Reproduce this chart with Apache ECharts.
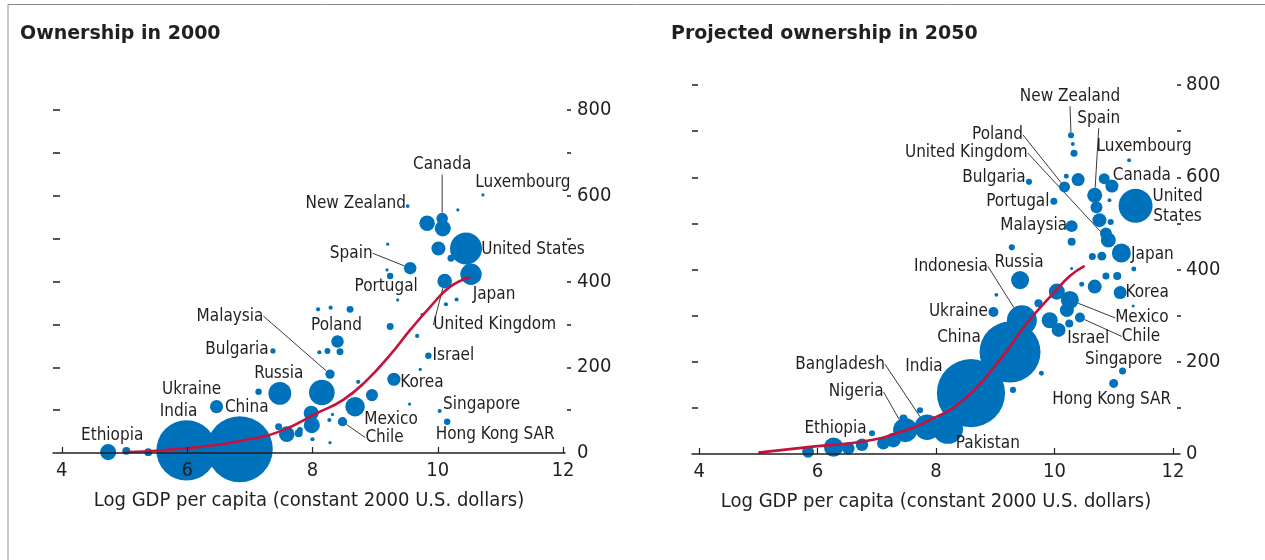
<!DOCTYPE html>
<html>
<head>
<meta charset="utf-8">
<script src="https://cdn.jsdelivr.net/npm/echarts@6/dist/echarts.min.js"></script>
<style>
  html, body { margin: 0; padding: 0; background: #fff; }
  #chart { width: 1265px; height: 560px; }
</style>
</head>
<body>
<div id="chart"></div>
<script>
// ---- Vehicle ownership in 2000 (per 1,000 people) ----
const names2000 = ['Ethiopia','','','India','China','Ukraine','Russia','','Bulgaria','Malaysia','','Poland','','','','','','','','','Mexico','Chile','Korea','','','Israel','','','','Singapore','Hong Kong SAR','','Portugal','','Spain','','','','Canada','','','United States','','Japan','United Kingdom','','','','Luxembourg','New Zealand','','','','','','','','',''];
const gdp2000   = [4.74,5.03,5.38,5.99,6.84,6.47,7.48,7.14,7.37,8.28,8.15,8.40,8.24,8.44,8.11,8.60,8.09,8.29,7.98,7.99,8.68,8.48,9.30,8.95,8.73,9.85,9.72,9.67,9.24,10.03,10.15,9.55,9.24,9.19,9.56,9.20,9.36,9.83,10.07,10.08,10.01,10.45,10.21,10.53,10.11,10.30,10.13,10.32,10.72,9.52,7.46,7.59,7.78,8.00,7.80,8.28,8.27,8.32,9.75];
const own2000   = [2,5,2,6,9,108,139,143,238,184,141,260,238,236,235,335,335,339,93,65,108,73,172,135,166,227,195,273,295,98,73,114,413,427,431,487,357,536,547,524,477,477,454,417,401,358,347,567,602,576,61,44,46,32,54,24,77,90,323];
const pop2000   = [75,18,18,1050,1260,50,150,12,8,25,190,45,10,14,5,14,5,5,65,74,110,25,50,42,5,12,3,5,14,5,12,3,12,3,45,3,3,70,38,75,57,295,14,132,62,5,5,3,3,4,14,70,18,5,10,3,5,3,3];
const fitGdp2000 = [4.97,5.99,7.00,7.54,8.07,8.49,8.87,9.24,9.56,9.88,10.20,10.52];
const fitOwn2000 = [1.6,11,32,54,93,124,170,229,287,341,388,410];

// ---- Projected vehicle ownership in 2050 ----
const names2050 = ['','Ethiopia','','','','','','Nigeria','Bangladesh','Pakistan','','','India','China','Indonesia','Ukraine','','Russia','','','','Singapore','Hong Kong SAR','','','Mexico','','','','Israel','Chile','','Korea','','','','','','','','','Japan','','United Kingdom','','Malaysia','','','United States','','Spain','','Portugal','Bulgaria','Canada','','','Poland','','Luxembourg','','','New Zealand'];
const gdp2050   = [5.84,6.27,6.52,6.75,6.92,7.11,7.28,7.48,7.85,8.20,7.45,7.73,8.59,9.25,9.45,8.97,9.02,9.42,9.28,9.78,9.30,11.15,11.00,9.73,10.04,10.26,10.21,9.92,10.07,10.25,10.43,10.68,11.11,11.33,10.46,10.87,11.06,11.34,10.64,10.80,10.29,11.13,10.29,10.91,10.87,10.29,10.95,10.76,11.37,10.93,10.68,10.71,9.99,9.57,10.97,10.84,10.40,10.17,10.20,11.26,10.33,10.31,10.28];
const own2050   = [5,15,12,20,45,23,30,52,58,55,77,95,132,221,290,308,345,377,448,175,139,180,153,327,352,334,312,290,269,283,296,363,350,321,368,386,386,401,428,429,402,436,460,464,478,494,503,507,538,550,561,535,548,590,581,597,595,579,602,637,652,672,691];
const pop2050   = [46,120,50,50,12,50,70,190,210,300,21,12,1500,1200,290,32,5,105,12,8,12,16,26,21,83,105,63,83,63,21,32,63,55,3,8,16,21,8,16,26,3,117,21,73,46,46,12,63,373,5,73,46,16,12,55,39,55,39,8,5,16,5,12];
const fitGdp2050 = [5.00,5.92,6.77,7.34,7.90,8.46,9.08,9.53,9.98,10.26,10.51];
const fitOwn2050 = [3,16,27,45,74,117,204,283,348,386,408];

// Axis ticks and labels
const xTicks = [4, 6, 8, 10, 12];
const yTicks = [100, 200, 300, 400, 500, 600, 700, 800];
const yLabels = [0, 200, 400, 600, 800];

// Label placement (pixel offset of the label centre from its bubble) and leader lines
const labelOffsets2000 = {
  'Ethiopia': [4, -17], 'India': [-8, -39], 'Ukraine': [-25, -17], 'China': [7, -42],
  'Russia': [-1, -20], 'Bulgaria': [-36, -1], 'Malaysia': [-100, -58], 'Poland': [-1, -16],
  'Portugal': [-4, 11], 'Spain': [-59, -15], 'New Zealand': [-52, -2], 'Canada': [0, -54],
  'Luxembourg': [40, -12], 'United States': [67, 1], 'Japan': [23, 20], 'United Kingdom': [50, 44],
  'Israel': [25, 0], 'Korea': [28, 3], 'Singapore': [42, -6], 'Hong Kong SAR': [48, 13],
  'Mexico': [36, 13], 'Chile': [42, 16]
};
const leaders2000 = ['Malaysia', 'Spain', 'Canada', 'United Kingdom', 'Chile'];
const labelOffsets2050 = {
  'New Zealand': [-1, -39], 'Spain': [4, -77], 'Luxembourg': [15, -14], 'Poland': [-67, -52],
  'United Kingdom': [-142, -87], 'Canada': [30, -10], 'United States': [42, 1], 'Bulgaria': [-35, -4],
  'Portugal': [-36, 0], 'Malaysia': [-38, -1], 'Japan': [31, 2], 'Russia': [-1, -18],
  'Indonesia': [-71, -54], 'Korea': [27, 0], 'Ukraine': [-35, 0], 'Mexico': [72, 18],
  'Chile': [61, 19], 'Israel': [19, 15], 'China': [-51, -14], 'India': [-47, -27],
  'Singapore': [1, -11], 'Hong Kong SAR': [-2, 16], 'Bangladesh': [-87, -63], 'Nigeria': [-49, -38],
  'Ethiopia': [2, -19], 'Pakistan': [40, 15]
};
const leaders2050 = ['New Zealand', 'Spain', 'Poland', 'United Kingdom', 'Indonesia', 'Mexico', 'Chile', 'Bangladesh', 'Nigeria'];
const labelText2050 = { 'United States': 'United\nStates' };

const BLUE = '#0072bc';
const RED = '#c5123a';
const INK = '#231f20';
const COND = "'DejaVu Sans Condensed', 'Liberation Sans Narrow', 'Liberation Sans', sans-serif";
const AXIS_NAME = 'Log GDP per capita (constant 2000 U.S. dollars)';

function bubbleSeries(idx, names, gdp, own, pop, scale, offsets, leaders, textMap) {
  const data = names.map((n, i) => ({
    name: n,
    value: [gdp[i], own[i], pop[i]],
    label: { show: n !== '' },
    labelLine: { show: leaders.includes(n) }
  }));
  return {
    type: 'scatter',
    xAxisIndex: idx, yAxisIndex: idx * 2,
    data,
    clip: false,
    z: 2,
    symbolSize: v => 2 * scale * Math.sqrt(v[2]),
    itemStyle: { color: BLUE, opacity: 1 },
    label: {
      position: 'inside',
      formatter: p => (textMap && textMap[p.name]) || p.name,
      color: INK, fontFamily: COND, fontSize: 17, lineHeight: 20
    },
    labelLine: { lineStyle: { color: '#3a3a3a', width: 1 } },
    labelLayout: p => {
      const o = offsets[names[p.dataIndex]];
      return o ? { dx: o[0], dy: o[1] } : {};
    },
    emphasis: { disabled: true }
  };
}

function fitSeries(idx, gx, gy) {
  return {
    type: 'line', xAxisIndex: idx, yAxisIndex: idx * 2,
    data: gx.map((x, i) => [x, gy[i]]),
    smooth: true, showSymbol: false, symbol: 'none', clip: false, z: 6,
    lineStyle: { color: RED, width: 2.6 }
  };
}

function xAxisFor(idx, min, max) {
  return {
    type: 'value', gridIndex: idx, min, max, z: 10,
    axisLine: { show: true, lineStyle: { color: INK, width: 1.5 } },
    axisTick: { show: true, inside: true, length: 6, customValues: xTicks, lineStyle: { color: INK, width: 1.2 } },
    axisLabel: { customValues: xTicks, color: INK, fontFamily: COND, fontSize: 20, margin: 8 },
    splitLine: { show: false },
    name: AXIS_NAME, nameLocation: 'middle', nameGap: 38,
    nameTextStyle: { color: INK, fontFamily: COND, fontSize: 20 }
  };
}

function yAxesFor(idx, offset, margin, leftTick) {
  return [
    {
      type: 'value', gridIndex: idx, position: 'right', offset, min: 0, max: 800,
      axisLine: { show: false },
      axisTick: { show: true, length: 4, customValues: yTicks, lineStyle: { color: INK, width: 1.5 } },
      axisLabel: { customValues: yLabels, color: INK, fontFamily: COND, fontSize: 20, margin },
      splitLine: { show: false }
    },
    {
      type: 'value', gridIndex: idx, position: 'left', min: 0, max: 800,
      axisLine: { show: false },
      axisTick: { show: true, inside: true, length: leftTick, customValues: yTicks, lineStyle: { color: INK, width: 1.5 } },
      axisLabel: { show: false },
      splitLine: { show: false }
    }
  ];
}

const TITLE_FONT = { color: INK, fontFamily: "'DejaVu Sans', 'Open Sans', sans-serif", fontWeight: 'bold', fontSize: 19 };

const chart = echarts.init(document.getElementById('chart'), null, { renderer: 'canvas' });
chart.setOption({
  animation: false,
  backgroundColor: '#fff',
  title: [
    { text: 'Ownership in 2000', left: 15, top: 20, textStyle: TITLE_FONT },
    { text: 'Projected ownership in 2050', left: 666, top: 20, textStyle: TITLE_FONT }
  ],
  grid: [
    { left: 53, top: 110, width: 512, height: 343 },
    { left: 692, top: 85, width: 488, height: 369 }
  ],
  xAxis: [xAxisFor(0, 3.86, 12.03), xAxisFor(1, 3.88, 12.12)],
  yAxis: [...yAxesFor(0, 2, 10, 7), ...yAxesFor(1, -3, 9, 6)],
  series: [
    bubbleSeries(0, names2000, gdp2000, own2000, pop2000, 0.93, labelOffsets2000, leaders2000, null),
    fitSeries(0, fitGdp2000, fitOwn2000),
    bubbleSeries(1, names2050, gdp2050, own2050, pop2050, 0.88, labelOffsets2050, leaders2050, labelText2050),
    fitSeries(1, fitGdp2050, fitOwn2050)
  ],
  graphic: [
    { type: 'polyline', silent: true, z: 100,
      shape: { points: [[8, 560], [8, 4.5], [1265, 4.5]] },
      style: { stroke: '#8c8c8c', lineWidth: 1, fill: null } }
  ]
});
</script>
</body>
</html>
